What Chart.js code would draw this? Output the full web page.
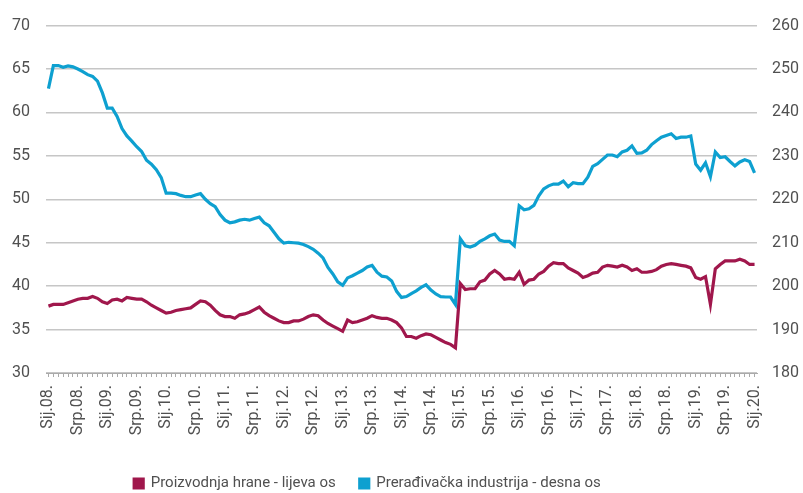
<!DOCTYPE html>
<html lang="hr">
<head>
<meta charset="utf-8">
<script src="https://cdn.jsdelivr.net/npm/chart.js@4.4.1/dist/chart.umd.min.js"></script>
<style>
  html, body { margin: 0; padding: 0; background: #fff; }
  #wrap { width: 803px; height: 493px; position: relative; }
</style>
</head>
<body>
<div id="wrap"><canvas id="grafikon"></canvas></div>
<script>
const mjeseci = ["Sij", "Velj", "Ožu", "Tra", "Svi", "Lip", "Srp", "Kol", "Ruj", "Lis", "Stu", "Pro"];
const godine = ["08", "09", "10", "11", "12", "13", "14", "15", "16", "17", "18", "19", "20"];

const oznakeOsi = [
  "Sij.08.", "Srp.08.", "Sij.09.", "Srp.09.", "Sij.10.", "Srp.10.", "Sij.11.", "Srp.11.",
  "Sij.12.", "Srp.12.", "Sij.13.", "Srp.13.", "Sij.14.", "Srp.14.", "Sij.15.", "Srp.15.",
  "Sij.16.", "Srp.16.", "Sij.17.", "Srp.17.", "Sij.18.", "Srp.18.", "Sij.19.", "Srp.19.", "Sij.20."
];

// Proizvodnja hrane - lijeva os
const hrana = [
  37.7, 37.9, 37.9, 37.9, 38.1, 38.3, 38.5, 38.6, 38.6, 38.8, 38.6, 38.2,
  38.0, 38.4, 38.5, 38.3, 38.7, 38.6, 38.5, 38.5, 38.2, 37.8, 37.5, 37.2,
  36.9, 37.0, 37.2, 37.3, 37.4, 37.5, 37.9, 38.3, 38.2, 37.8, 37.2, 36.7,
  36.5, 36.5, 36.3, 36.7, 36.8, 37.0, 37.3, 37.6, 37.0, 36.6, 36.3, 36.0,
  35.8, 35.8, 36.0, 36.0, 36.2, 36.5, 36.7, 36.6, 36.1, 35.7, 35.4, 35.1,
  34.8, 36.1, 35.8, 35.9, 36.1, 36.3, 36.6, 36.4, 36.3, 36.3, 36.1, 35.8,
  35.2, 34.2, 34.2, 34.0, 34.3, 34.5, 34.4, 34.1, 33.8, 33.5, 33.3, 32.9,
  40.3, 39.6, 39.7, 39.7, 40.5, 40.7, 41.4, 41.8, 41.4, 40.8, 40.9, 40.8,
  41.6, 40.2, 40.7, 40.8, 41.4, 41.7, 42.3, 42.7, 42.6, 42.6, 42.1, 41.8,
  41.5, 41.0, 41.2, 41.5, 41.6, 42.2, 42.4, 42.3, 42.2, 42.4, 42.2, 41.8,
  42.0, 41.6, 41.6, 41.7, 41.9, 42.3, 42.5, 42.6, 42.5, 42.4, 42.3, 42.1,
  41.0, 40.8, 41.1, 37.9, 42.0, 42.5, 42.9, 42.9, 42.9, 43.1, 42.9, 42.5,
  42.5
];

// Prerađivačka industrija - desna os
const industrija = [
  245.5, 250.8, 250.8, 250.4, 250.7, 250.5, 250.0, 249.4, 248.7, 248.3, 247.2, 244.5,
  241.0, 241.0, 239.1, 236.3, 234.6, 233.4, 232.1, 231.0, 229.0, 228.1, 226.8, 225.0,
  221.4, 221.4, 221.3, 220.9, 220.6, 220.6, 221.0, 221.3, 220.0, 219.0, 218.3, 216.5,
  215.2, 214.6, 214.8, 215.2, 215.4, 215.2, 215.6, 215.9, 214.6, 213.9, 212.4, 210.9,
  209.9, 210.1, 210.0, 209.9, 209.6, 209.1, 208.5, 207.6, 206.5, 204.3, 202.8, 201.0,
  200.2, 201.9, 202.4, 203.0, 203.6, 204.4, 204.8, 203.2, 202.3, 202.1, 201.2, 198.8,
  197.4, 197.6, 198.3, 198.9, 199.7, 200.3, 199.1, 198.2, 197.6, 197.5, 197.5, 195.8,
  210.9, 209.3, 209.0, 209.4, 210.3, 210.9, 211.6, 212.0, 210.6, 210.3, 210.3, 209.3,
  218.5, 217.6, 217.8, 218.6, 220.8, 222.4, 223.1, 223.5, 223.5, 224.2, 222.9, 223.8,
  223.6, 223.6, 225.1, 227.6, 228.2, 229.2, 230.2, 230.2, 229.8, 230.9, 231.3, 232.3,
  230.6, 230.7, 231.3, 232.6, 233.5, 234.3, 234.7, 235.1, 234.0, 234.3, 234.3, 234.6,
  228.1, 226.7, 228.4, 225.2, 230.9, 229.6, 229.8, 228.7, 227.7, 228.6, 229.1, 228.7,
  226.1
];

// mjesecne kategorije od sij.08. do sij.20.
const kategorije = [];
godine.forEach((god, g) => {
  mjeseci.forEach((mj) => {
    if (g < godine.length - 1 || mj === "Sij") kategorije.push(`${mj}.${god}.`);
  });
});

const crvena = "#a0174c";
const plava = "#0ea0d0";
const sivaMreza = "#c6c6c6";
const tekst = "#505050";
const font = "Roboto";

// legenda je u izvorniku malo pomaknuta ulijevo
const pomakLegende = {
  id: "pomakLegende",
  afterLayout: (chart) => {
    chart.legend.left -= 34;
    chart.legend.right -= 34;
  },
};

const ctx = document.getElementById("grafikon").getContext("2d");

let myChart = new Chart(ctx, {
  type: "line",
  data: {
    labels: kategorije,
    datasets: [
      {
        label: "Proizvodnja hrane - lijeva os",
        data: hrana,
        yAxisID: "y",
        borderColor: crvena,
        backgroundColor: crvena,
        borderWidth: 3.2,
        pointRadius: 0,
        tension: 0,
      },
      {
        label: "Prerađivačka industrija - desna os",
        data: industrija,
        yAxisID: "y1",
        borderColor: plava,
        backgroundColor: plava,
        borderWidth: 3.2,
        pointRadius: 0,
        tension: 0,
      },
    ],
  },
  plugins: [pomakLegende],
  options: {
    responsive: true,
    maintainAspectRatio: false,
    animation: false,
    layout: { padding: { top: 24, left: 0, right: 0, bottom: 0 } },
    plugins: {
      tooltip: { enabled: false },
      legend: {
        position: "bottom",
        maxHeight: 41,
        labels: {
          boxWidth: 9,
          boxHeight: 9,
          padding: 24,
          color: tekst,
          font: { family: font, size: 15 },
        },
      },
    },
    scales: {
      x: {
        offset: true,
        afterFit: (scale) => { scale.height = 79; },
        border: { display: true, color: "#aaaaaa", width: 1 },
        grid: {
          display: true,
          drawOnChartArea: false,
          drawTicks: true,
          tickLength: 4,
          color: "#aaaaaa",
        },
        ticks: {
          autoSkip: false,
          maxRotation: 90,
          minRotation: 90,
          padding: 8,
          color: tekst,
          font: { family: font, size: 16 },
          callback: (val, index) => (index % 6 === 0 ? oznakeOsi[index / 6] : ""),
        },
      },
      y: {
        position: "left",
        min: 30,
        max: 70,
        afterFit: (scale) => { scale.width = 46; },
        border: { display: false },
        grid: { color: sivaMreza, lineWidth: 1.5, drawTicks: false },
        ticks: {
          stepSize: 5,
          padding: 16,
          color: tekst,
          font: { family: font, size: 16 },
        },
      },
      y1: {
        position: "right",
        min: 180,
        max: 260,
        afterFit: (scale) => { scale.width = 46; },
        border: { display: false },
        grid: { display: false, drawTicks: false },
        ticks: {
          stepSize: 10,
          padding: 15,
          color: tekst,
          font: { family: font, size: 16 },
        },
      },
    },
  },
});
</script>
</body>
</html>
